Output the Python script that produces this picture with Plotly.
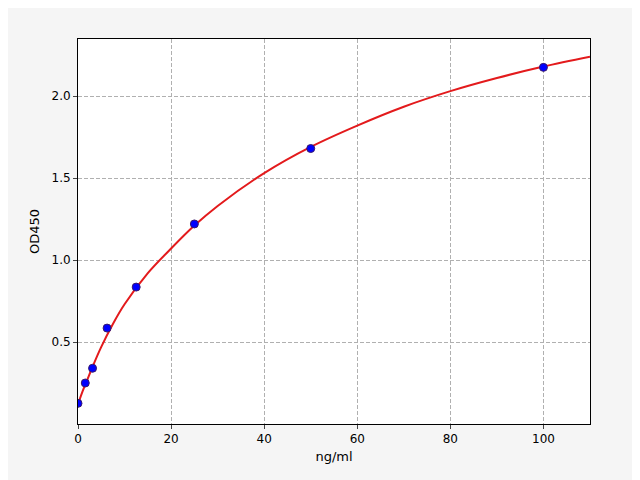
import plotly.graph_objects as go

# standard points
conc = [0, 1.5625, 3.125, 6.25, 12.5, 25, 50, 100]
od = [0.126, 0.25, 0.34, 0.585, 0.835, 1.22, 1.68, 2.175]

# fitted curve
curve_x = [0, 1, 2, 3, 5, 7.5, 10, 15, 20, 25, 30, 40, 50, 60, 70, 80, 90, 100, 110]
curve_y = [0.12, 0.2, 0.27, 0.34, 0.47, 0.61, 0.73, 0.92, 1.07, 1.21, 1.33, 1.53, 1.69, 1.82, 1.935, 2.03, 2.11, 2.18, 2.24]

fig = go.Figure()
fig.add_trace(go.Scatter(x=curve_x, y=curve_y, mode="lines", line=dict(color="#e31a1c", width=2, shape="spline"),
                         hoverinfo="skip"))
fig.add_trace(go.Scatter(x=conc, y=od, mode="markers",
                         marker=dict(color="#0000ff", size=8, line=dict(color="#3a1a6a", width=1))))

ax = dict(showline=True, linecolor="black", linewidth=1, mirror=True, ticks="outside", ticklen=4,
          showgrid=True, gridcolor="#b0b0b0", griddash="4px,2px", gridwidth=1, zeroline=False,
          tickfont=dict(size=12, color="black"))
fig.update_xaxes(ax, range=[0, 110], dtick=20, title=dict(text="ng/ml", font=dict(size=13), standoff=6))
fig.update_yaxes(ax, range=[0, 2.348], tickvals=[0.5, 1.0, 1.5, 2.0], ticktext=["0.5", "1.0", "1.5", "2.0"],
                 title=dict(text="OD450", font=dict(size=13), standoff=8))
fig.update_layout(width=640, height=480, showlegend=False, paper_bgcolor="#f5f5f5", plot_bgcolor="white",
                  margin=dict(l=70, r=58, t=31, b=64), font=dict(family="DejaVu Sans", color="black"))
fig.write_html("out.html")
